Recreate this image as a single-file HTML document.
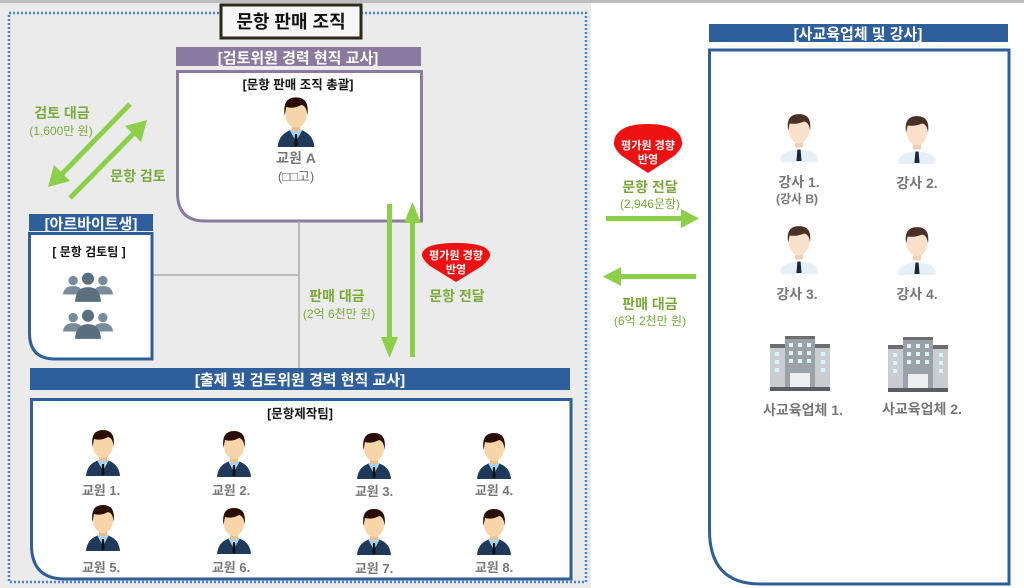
<!DOCTYPE html>
<html><head><meta charset="utf-8"><style>
html,body{margin:0;padding:0;background:#fff;}
svg{display:block;font-family:"Liberation Sans","Noto Sans CJK KR",sans-serif;}
</style></head><body>
<svg width="1024" height="588" viewBox="0 0 1024 588" xmlns="http://www.w3.org/2000/svg">
<defs>
<symbol id="p" viewBox="0 0 40 50">
<path d="M3 50 Q4 36 20 33 Q36 36 37 50 Z" fill="#1f3a5a"/>
<path d="M14 34 L20 45 L26 34 Z" fill="#a9d4ef"/>
<path d="M19 38 L21 38 L21.6 48 L20 50 L18.4 48 Z" fill="#111"/>
<rect x="16" y="26" width="8" height="9" fill="#efbf8a"/>
<ellipse cx="20" cy="19" rx="10" ry="13" fill="#f8d5a8"/>
<path d="M9.5 21 Q7 4 20 4 Q33 4 30.5 21 Q30 12 25 11 Q18 15 11 13 Z" fill="#2a0d05"/>
</symbol>
<symbol id="q" viewBox="0 0 40 50">
<ellipse cx="20" cy="47" rx="18" ry="9" fill="#e6eef8"/>
<path d="M18.5 38 L21.5 38 L22.5 49 L17.5 49 Z" fill="#1a2a3a"/>
<rect x="16" y="26" width="8" height="10" fill="#f3cfae"/>
<ellipse cx="20" cy="19" rx="10" ry="13" fill="#fae0c8"/>
<path d="M9.5 20 Q7 4 20 4 Q33 4 30.5 20 Q30 12 25 11 Q18 14 11 13 Z" fill="#4a3026"/>
</symbol>
<symbol id="b" viewBox="0 0 60 56">
<rect x="0" y="8" width="60" height="44" fill="#c9ccd0"/>
<rect x="0" y="8" width="60" height="4" fill="#6a6e73"/>
<rect x="15" y="0" width="30" height="52" fill="#9ca1a7"/>
<rect x="15" y="0" width="30" height="3" fill="#6a6e73"/>
<g fill="#d8f4f6">
<rect x="19" y="7" width="4" height="4"/><rect x="28" y="7" width="4" height="4"/><rect x="37" y="7" width="4" height="4"/>
<rect x="19" y="15" width="4" height="4"/><rect x="28" y="15" width="4" height="4"/><rect x="37" y="15" width="4" height="4"/>
<rect x="19" y="23" width="4" height="4"/><rect x="28" y="23" width="4" height="4"/><rect x="37" y="23" width="4" height="4"/>
<rect x="5" y="16" width="4" height="4"/><rect x="5" y="24" width="4" height="4"/><rect x="5" y="32" width="4" height="4"/>
<rect x="51" y="16" width="4" height="4"/><rect x="51" y="24" width="4" height="4"/><rect x="51" y="32" width="4" height="4"/>
</g>
<rect x="20" y="37" width="20" height="15" fill="#eceeef"/>
<rect x="0" y="51" width="60" height="4" fill="#5a5e63"/>
</symbol>
<symbol id="g" viewBox="0 0 56 34">
<circle cx="12" cy="9" r="5" fill="#7a8c9a"/><circle cx="44" cy="9" r="5" fill="#7a8c9a"/>
<path d="M1 24 Q2 15 12 15 Q22 15 23 24 Z" fill="#7a8c9a"/>
<path d="M33 24 Q34 15 44 15 Q54 15 55 24 Z" fill="#7a8c9a"/>
<circle cx="28" cy="7" r="6.5" fill="#596f80"/>
<path d="M14 32 Q15 16 28 16 Q41 16 42 32 Z" fill="#596f80"/>
</symbol>
</defs>

<rect x="0" y="0" width="1024" height="588" fill="#fff"/>
<rect x="0" y="0" width="1024" height="3" fill="#bdbdbd"/>
<rect x="0" y="3" width="591" height="585" fill="#ebebeb"/>
<rect x="9" y="13" width="577" height="569" fill="none" stroke="#4a7fe0" stroke-width="2.5" stroke-dasharray="2 2"/>

<!-- title -->
<rect x="221" y="5" width="140" height="33" fill="#f6f6f6" stroke="#2a2a1a" stroke-width="3"/>
<text x="291" y="28" text-anchor="middle" font-size="18" font-weight="bold" fill="#111">문항 판매 조직</text>

<!-- purple -->
<rect x="176" y="47" width="245" height="19" fill="#8a7aa0"/>
<text x="298" y="63" text-anchor="middle" font-size="15" font-weight="bold" fill="#fff">[검토위원 경력 현직 교사]</text>
<path d="M177.5 71.5 H421.5 V221 H205 Q177.5 221 177.5 193 Z" fill="#fff" stroke="#8a7aa0" stroke-width="3"/>
<text x="298" y="89" text-anchor="middle" font-size="12.5" font-weight="bold" fill="#111">[문항 판매 조직 총괄]</text>
<use href="#p" x="273" y="93" width="46" height="54"/>
<text x="296" y="163" text-anchor="middle" font-size="14" font-weight="bold" fill="#777">교원 A</text>
<text x="296" y="181" text-anchor="middle" font-size="13" fill="#666">(□□고)</text>

<!-- connectors -->
<line x1="299" y1="221" x2="299" y2="368" stroke="#aaa" stroke-width="1.5"/>
<line x1="153" y1="275" x2="299" y2="275" stroke="#aaa" stroke-width="1.5"/>

<!-- diag arrows -->
<g stroke="#8bd048" stroke-width="5" fill="#8bd048">
<line x1="130" y1="104" x2="60" y2="176"/>
<line x1="70" y1="198" x2="137" y2="130"/>
</g>
<polygon points="48,187 54,165 70,181" fill="#8bd048"/>
<polygon points="147,120 141,142 125,126" fill="#8bd048"/>
<text x="62" y="118" text-anchor="middle" font-size="14" font-weight="bold" fill="#7aaa3a">검토 대금</text>
<text x="61" y="135" text-anchor="middle" font-size="12" fill="#7aaa3a">(1,600만 원)</text>
<text x="138" y="181" text-anchor="middle" font-size="14" font-weight="bold" fill="#7aaa3a">문항 검토</text>

<!-- arbeit -->
<rect x="29" y="214" width="124" height="17" fill="#2f5f9a"/>
<text x="91" y="229" text-anchor="middle" font-size="15" font-weight="bold" fill="#fff">[아르바이트생]</text>
<path d="M29.5 233.5 H152 V359 H55 Q29.5 359 29.5 333 Z" fill="#fff" stroke="#2f5f9a" stroke-width="3"/>
<text x="89" y="256" text-anchor="middle" font-size="12" font-weight="bold" fill="#111">[ 문항 검토팀 ]</text>
<use href="#g" x="62" y="272" width="52" height="32"/>
<use href="#g" x="62" y="309" width="52" height="32"/>

<!-- vertical arrows -->
<rect x="387" y="204" width="5" height="135" fill="#8bd048"/>
<polygon points="381,337 398,337 389.5,358" fill="#8bd048"/>
<rect x="410" y="222" width="5" height="135" fill="#8bd048"/>
<polygon points="404,223 421,223 412.5,202" fill="#8bd048"/>
<text x="337" y="301" text-anchor="middle" font-size="14" font-weight="bold" fill="#7aaa3a">판매 대금</text>
<text x="339" y="318" text-anchor="middle" font-size="12" fill="#7aaa3a">(2억 6천만 원)</text>
<path d="M456 282 L430 266 Q421 258 422 254 Q424 243 456 243 Q488 243 490 254 Q491 258 482 266 Z" fill="#ee1111"/>
<text x="456" y="259" text-anchor="middle" font-size="11" font-weight="bold" fill="#fff">평가원 경향</text>
<text x="456" y="273" text-anchor="middle" font-size="11" font-weight="bold" fill="#fff">반영</text>
<text x="457" y="301" text-anchor="middle" font-size="14" font-weight="bold" fill="#7aaa3a">문항 전달</text>

<!-- bottom -->
<rect x="30" y="368" width="540" height="22" fill="#2f5f9a"/>
<text x="300" y="385" text-anchor="middle" font-size="15" font-weight="bold" fill="#fff">[출제 및 검토위원 경력 현직 교사]</text>
<path d="M31.5 399.5 H571 V579 H65 Q31.5 579 31.5 545 Z" fill="#fff" stroke="#2f5f9a" stroke-width="3"/>
<text x="300" y="418" text-anchor="middle" font-size="12.5" font-weight="bold" fill="#111">[문항제작팀]</text>
<g>
<use href="#p" x="82" y="426" width="42" height="50"/>
<use href="#p" x="213" y="427" width="42" height="50"/>
<use href="#p" x="353" y="429" width="42" height="50"/>
<use href="#p" x="473" y="429" width="42" height="50"/>
<use href="#p" x="82" y="501" width="42" height="50"/>
<use href="#p" x="213" y="504" width="42" height="50"/>
<use href="#p" x="353" y="505" width="42" height="50"/>
<use href="#p" x="473" y="505" width="42" height="50"/>
</g>
<g font-size="13" font-weight="bold" fill="#777" text-anchor="middle">
<text x="101" y="495">교원 1.</text><text x="231" y="495">교원 2.</text><text x="374" y="496">교원 3.</text><text x="494" y="495">교원 4.</text>
<text x="101" y="572">교원 5.</text><text x="231" y="572">교원 6.</text><text x="374" y="573">교원 7.</text><text x="494" y="572">교원 8.</text>
</g>

<!-- middle right arrows -->
<path d="M648 173 L622 156 Q613 148 614 142 Q616 124 648 124 Q680 124 682 142 Q683 148 674 156 Z" fill="#ee1111"/>
<text x="648" y="149" text-anchor="middle" font-size="11" font-weight="bold" fill="#fff">평가원 경향</text>
<text x="648" y="163" text-anchor="middle" font-size="11" font-weight="bold" fill="#fff">반영</text>
<text x="650" y="192" text-anchor="middle" font-size="14" font-weight="bold" fill="#7aaa3a">문항 전달</text>
<text x="650" y="208" text-anchor="middle" font-size="12" fill="#7aaa3a">(2,946문항)</text>
<rect x="606" y="216" width="76" height="5" fill="#8bd048"/>
<polygon points="681,209 681,228 699,218.5" fill="#8bd048"/>
<rect x="620" y="274" width="76" height="5" fill="#8bd048"/>
<polygon points="621,267 621,286 603,276.5" fill="#8bd048"/>
<text x="650" y="309" text-anchor="middle" font-size="14" font-weight="bold" fill="#7aaa3a">판매 대금</text>
<text x="650" y="325" text-anchor="middle" font-size="12" fill="#7aaa3a">(6억 2천만 원)</text>

<!-- right box -->
<rect x="709" y="24" width="299" height="18" fill="#2f5f9a"/>
<text x="858" y="39" text-anchor="middle" font-size="15" font-weight="bold" fill="#fff">[사교육업체 및 강사]</text>
<path d="M709.5 50 H1009 V584 H760 Q709.5 584 709.5 530 Z" fill="#fff" stroke="#2f5f9a" stroke-width="3"/>
<use href="#q" x="777" y="110" width="44" height="52"/>
<use href="#q" x="895" y="112" width="44" height="52"/>
<use href="#q" x="777" y="222" width="44" height="52"/>
<use href="#q" x="895" y="223" width="44" height="52"/>
<g font-size="14" font-weight="bold" fill="#777" text-anchor="middle">
<text x="799" y="187">강사 1.</text>
<text x="917" y="188">강사 2.</text>
<text x="797" y="299">강사 3.</text>
<text x="917" y="299">강사 4.</text>
<text x="803" y="415">사교육업체 1.</text>
<text x="922" y="414">사교육업체 2.</text>
</g>
<text x="797" y="203" text-anchor="middle" font-size="12" font-weight="bold" fill="#777">(강사 B)</text>
<use href="#b" x="769" y="336" width="62" height="56"/>
<use href="#b" x="887" y="337" width="62" height="56"/>
</svg>
</body></html>
